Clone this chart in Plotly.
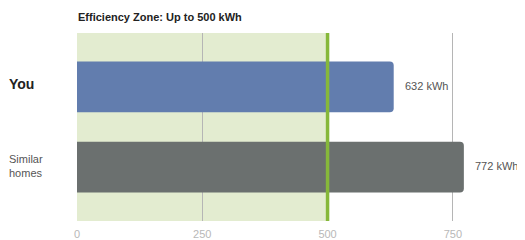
import plotly.graph_objects as go

categories = ["You", "Similar homes"]
cat_labels = ["<b>You</b>", "Similar<br>homes"]
values = [632, 772]
bar_colors = ["#627dae", "#6b706f"]
tick_vals = [0, 250, 500, 750]
zone_limit = 500
title_text = "Efficiency Zone: Up to 500 kWh"
unit = "kWh"

fig = go.Figure()
fig.add_trace(go.Bar(
    y=categories, x=values, orientation="h",
    marker=dict(color=bar_colors, line=dict(width=0)),
    width=0.63, hoverinfo="skip",
))

# efficiency zone background
fig.add_shape(type="rect", xref="x", yref="paper", x0=0, x1=zone_limit, y0=0, y1=1,
              fillcolor="#e3ecd0", line=dict(width=0), layer="below")
# zone limit line
fig.add_shape(type="line", xref="x", yref="paper", x0=zone_limit, x1=zone_limit, y0=0, y1=1,
              line=dict(color="#86b83a", width=3.5), layer="above")

# value labels
for c, v in zip(categories, values):
    fig.add_annotation(x=v, y=c, xref="x", yref="y", text=f"{v} {unit}",
                       showarrow=False, xanchor="left", xshift=9, yshift=1,
                       font=dict(size=11, color="#555555"))

# category labels
sizes = [14, 11]
colors = ["#222222", "#555555"]
yshifts = [3, 1]
for c, lab, s, col, ys in zip(categories, cat_labels, sizes, colors, yshifts):
    fig.add_annotation(x=0, y=c, xref="paper", yref="y", text=lab, showarrow=False,
                       xanchor="left", align="left", xshift=-70, yshift=ys,
                       font=dict(size=s, color=col))

fig.add_annotation(x=0, y=1, xref="paper", yref="paper", text=f"<b>{title_text}</b>",
                   showarrow=False, xanchor="left", yanchor="bottom", yshift=8, xshift=-1,
                   font=dict(size=11, color="#222222"))

fig.update_layout(
    width=517, height=232,
    margin=dict(l=69, r=0, t=25, b=17),
    paper_bgcolor="white", plot_bgcolor="white",
    showlegend=False,
    barcornerradius=4,
    font=dict(family="Liberation Sans, Arial, sans-serif"),
)
fig.update_xaxes(range=[0, 894], tickvals=tick_vals, showgrid=True, gridcolor="#b5b5b5",
                 gridwidth=1, zeroline=False, showline=False, ticks="",
                 ticklabelstandoff=5,
                 tickfont=dict(size=11, color="#b8b8b8"), fixedrange=True)
fig.update_yaxes(range=[1.67, -0.67], showticklabels=False, showgrid=False,
                 zeroline=False, showline=False, fixedrange=True)

fig.write_html("out.html")
